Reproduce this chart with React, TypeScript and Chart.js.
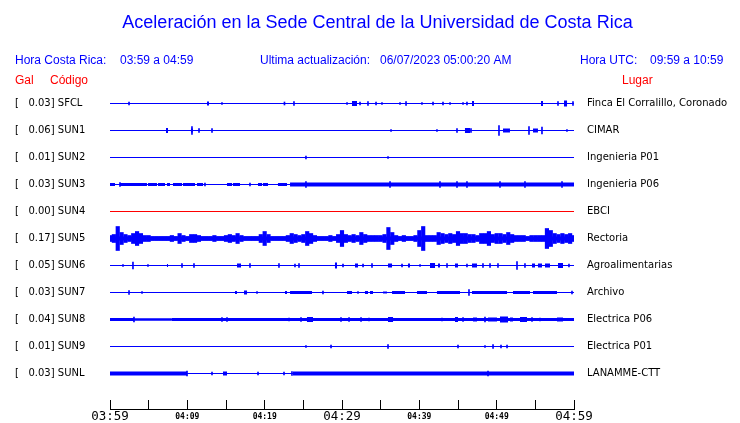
import React, { useEffect, useRef } from 'react';
import { Chart, registerables } from 'chart.js';

Chart.register(...registerables);

// ---------- text ----------
const TITLE = 'Aceleración en la Sede Central de la Universidad de Costa Rica';
const CR_LABEL = 'Hora Costa Rica:';
const CR_RANGE = '03:59 a 04:59';
const UPD_LABEL = 'Ultima actualización:';
const UPD_VALUE = '06/07/2023 05:00:20 AM';
const UTC_LABEL = 'Hora UTC:';
const UTC_RANGE = '09:59 a 10:59';

// time axis: minutes after 03:59, labels every 10 minutes
const TIME_TICKS = ['03:59', '04:09', '04:19', '04:29', '04:39', '04:49', '04:59'];

// ---------- stations ----------
const CODES = ['SFCL', 'SUN1', 'SUN2', 'SUN3', 'SUN4', 'SUN5', 'SUN6', 'SUN7', 'SUN8', 'SUN9', 'SUNL'];
const PEAKS = ['0.03', '0.06', '0.01', '0.03', '0.00', '0.17', '0.05', '0.03', '0.04', '0.01', '0.03'];
const PLACES = [
  'Finca El Corralillo, Coronado', 'CIMAR', 'Ingenieria P01', 'Ingenieria P06', 'EBCI', 'Rectoria',
  'Agroalimentarias', 'Archivo', 'Electrica P06', 'Electrica P01', 'LANAMME-CTT',
];

// spikes: [minute, half amplitude] ; bursts: [start minute, end minute, half amplitude]
const SFCL_SPIKES = [[2.46, 1.5], [14.48, 1], [22.56, 1.5], [23.79, 2], [30.65, 1], [32.33, 1.5], [33.36, 2], [34.4, 1.5], [35.17, 1], [37.5, 1], [38.28, 2], [40.34, 1], [41.77, 1.5], [43.06, 1.5], [43.97, 1], [45.65, 1], [46.16, 1.5], [57.93, 2], [59.87, 2]];
const SFCL_BURSTS = [[12.54, 12.8, 2], [31.29, 31.94, 2.5], [46.81, 47.07, 2.5], [55.73, 55.99, 2.5], [58.71, 59.1, 3]];

const SUN1_SPIKES = [[10.6, 4], [11.51, 2], [13.19, 2], [36.34, 1], [42.28, 1], [44.87, 2], [46.68, 2], [50.3, 5], [54.18, 4], [55.86, 3.5], [59.09, 1]];
const SUN1_BURSTS = [[7.24, 7.5, 2.5], [10.47, 10.73, 2], [45.9, 46.55, 2.5], [50.82, 51.72, 2], [54.7, 55.34, 2]];

const SUN2_SPIKES = [[25.34, 1.5], [35.95, 1]];
const SUN2_BURSTS = [];

const SUN3_SPIKES = [[1.29, 2], [12.28, 1.5], [18.1, 1.5], [25.34, 3], [36.21, 3], [42.67, 3], [44.87, 3], [46.16, 3], [50.43, 3], [53.66, 3], [58.45, 3]];
const SUN3_BURSTS = [[0, 0.65, 1.5], [1.29, 4.78, 1.5], [4.91, 6.08, 1.5], [6.21, 7.11, 1.5], [7.37, 7.76, 1.5], [8.15, 9.31, 1.5], [9.44, 10.99, 1.5], [11.25, 12.03, 1.5], [15.13, 15.78, 1.5], [15.9, 16.81, 1.5], [19.14, 19.66, 1.5], [19.78, 20.43, 1.5], [21.72, 22.89, 1.5], [23.28, 60, 2]];

const SUN4_SPIKES = [];
const SUN4_BURSTS = [];

// SUN5 is continuous: envelope sampled every half minute (0 .. 60)
const SUN5_STEP = 0.5;
const SUN5_ENVELOPE = [
  3, 4, 12, 6, 4, 3, 5, 7, 5, 3,
  3, 2, 2, 2, 2, 2, 3, 2, 5, 3,
  2, 4, 4, 3, 2, 2, 2, 3, 2, 2,
  3, 4, 3, 5, 3, 2, 2, 2, 2, 4,
  7, 4, 2, 2, 2, 2, 3, 5, 4, 3,
  4, 7, 5, 3, 2, 2, 2, 3, 2, 4,
  8, 4, 3, 4, 3, 6, 4, 3, 3, 3,
  3, 4, 11, 6, 3, 2, 3, 2, 2, 3,
  8, 12, 3, 3, 3, 6, 5, 4, 5, 4,
  7, 5, 5, 4, 4, 3, 5, 5, 7, 4,
  5, 5, 4, 6, 4, 3, 3, 3, 2, 3,
  3, 3, 3, 10, 8, 5, 4, 5, 4, 5,
  3,
];
const SUN5_SPIKES = [];
const SUN5_BURSTS = [[0, 60, 2]];

const SUN6_SPIKES = [[1.68, 1], [2.97, 3.5], [4.91, 1], [9.31, 2], [10.86, 2], [18.1, 2], [21.85, 2], [23.92, 1.5], [24.44, 2], [30.13, 1.5], [32.72, 1.5], [33.88, 2], [37.76, 1.5], [40.09, 1], [43.58, 2], [46.16, 1.5], [48.23, 2], [49.14, 2], [50.17, 2], [52.63, 4], [53.66, 2], [59.35, 1.5]];
const SUN6_BURSTS = [[7.37, 7.5, 1.5], [16.42, 16.94, 2], [29.09, 29.35, 3], [31.68, 32.07, 2], [35.95, 36.47, 2], [38.53, 38.79, 2], [41.38, 42.03, 2.5], [42.41, 42.67, 2], [44.61, 45.0, 2], [46.81, 47.46, 2], [54.57, 54.96, 2], [55.34, 55.86, 2], [56.25, 56.9, 2], [57.93, 58.58, 2.5]];

const SUN7_SPIKES = [[2.46, 2], [4.14, 1], [19.01, 1], [27.54, 1.5], [32.07, 1], [46.42, 3], [59.74, 1.5]];
const SUN7_BURSTS = [[16.16, 16.42, 1.5], [17.33, 17.72, 2], [22.63, 22.89, 1.5], [23.28, 26.12, 1.5], [30.65, 31.29, 1.5], [32.97, 33.36, 1.5], [33.62, 34.01, 1.5], [35.3, 35.82, 1], [36.47, 38.15, 1.5], [39.7, 40.99, 1.5], [42.28, 45.26, 1.5], [46.81, 51.34, 1.5], [52.11, 54.31, 1.5], [54.7, 57.8, 1.5]];

const SUN8_SPIKES = [[3.1, 2.5], [14.48, 2], [15.13, 2], [23.15, 1.5], [24.7, 2], [29.87, 2], [30.91, 2], [32.46, 2], [33.49, 1.5], [42.93, 1.5], [45.65, 2], [48.49, 2.5], [54.57, 2], [55.6, 1.5]];
const SUN8_BURSTS = [[0, 3.2, 1.5], [3.2, 8.0, 1.25], [8.0, 60, 1.5], [25.47, 26.25, 2.5], [35.95, 36.6, 2.5], [44.61, 45.0, 2.5], [46.94, 47.46, 2], [48.88, 50.04, 2], [50.43, 51.47, 3], [51.72, 52.11, 2], [53.02, 53.92, 2.5], [57.8, 58.58, 2]];

const SUN9_SPIKES = [[25.34, 1], [28.58, 1.5], [35.95, 2], [45.0, 1.5], [48.49, 1], [49.53, 2], [50.56, 1.5], [51.34, 1.5]];
const SUN9_BURSTS = [];

const SUNL_SPIKES = [[9.96, 2.5], [13.19, 1.5], [19.14, 1.5], [22.5, 1.5], [23.53, 2], [48.88, 2.5]];
const SUNL_BURSTS = [[0, 9.96, 2], [14.61, 15.13, 2], [23.66, 60, 2]];

const SPIKES = [SFCL_SPIKES, SUN1_SPIKES, SUN2_SPIKES, SUN3_SPIKES, SUN4_SPIKES, SUN5_SPIKES, SUN6_SPIKES, SUN7_SPIKES, SUN8_SPIKES, SUN9_SPIKES, SUNL_SPIKES];
const BURSTS = [SFCL_BURSTS, SUN1_BURSTS, SUN2_BURSTS, SUN3_BURSTS, SUN4_BURSTS, SUN5_BURSTS, SUN6_BURSTS, SUN7_BURSTS, SUN8_BURSTS, SUN9_BURSTS, SUNL_BURSTS];

// ---------- styling / layout constants ----------
const BLUE = '#0000ff';
const RED = '#ff0000';
const FLAT_COLOR = RED; // station with no signal
const ROW = 27; // value units between two traces
const TIME_MAX = 60;
const Y_MAX = 13.5;
const Y_MIN = 13.5 - 310;
const SANS = '"Liberation Sans", Arial, sans-serif';
const DEJAVU = '"DejaVu Sans", sans-serif';
const MONO = '"DejaVu Sans Mono", monospace';

const unitPx = (chart: any) => {
  const s = chart.scales && chart.scales.y;
  if (!s) return 1;
  return Math.abs(s.getPixelForValue(0) - s.getPixelForValue(1));
};

function buildDatasets() {
  const ds: any[] = [];
  CODES.forEach((code, i) => {
    const c = -i * ROW;
    const color = PEAKS[i] === '0.00' ? FLAT_COLOR : BLUE;
    ds.push({
      type: 'line',
      data: [{ x: 0, y: c }, { x: TIME_MAX, y: c }],
      borderColor: color,
      borderWidth: 1,
      pointRadius: 0,
      xAxisID: 'x',
      yAxisID: 'y',
    });
    BURSTS[i].forEach(([a, b, h]) => {
      ds.push({
        type: 'line',
        data: [{ x: a, y: c }, { x: b, y: c }],
        borderColor: color,
        borderWidth: (ctx: any) => 2 * h * unitPx(ctx.chart),
        borderCapStyle: 'butt',
        pointRadius: 0,
        xAxisID: 'x',
        yAxisID: 'y',
      });
    });
    if (SPIKES[i].length) {
      ds.push({
        type: 'bar',
        data: SPIKES[i].map(([m, a]) => ({ x: m, y: [c - a, c + a] })),
        backgroundColor: color,
        borderWidth: 0,
        barThickness: 1,
        grouped: false,
        xAxisID: 'x',
        yAxisID: 'y',
      });
    }
    if (code === 'SUN5') {
      ds.push({
        type: 'bar',
        data: SUN5_ENVELOPE.map((a, k) => ({ x: k * SUN5_STEP, y: [c - a, c + a] })),
        backgroundColor: color,
        borderWidth: 0,
        barThickness: 3.5,
        grouped: false,
        xAxisID: 'x',
        yAxisID: 'y',
      });
    }
  });
  return ds;
}

const headerPlugin = {
  id: 'header',
  afterDraw(chart: any) {
    const { ctx } = chart;
    ctx.save();
    ctx.textBaseline = 'middle';
    ctx.textAlign = 'left';
    ctx.font = `12px ${SANS}`;
    ctx.fillStyle = BLUE;
    ctx.fillText(CR_LABEL, 15, 61);
    ctx.fillText(CR_RANGE, 120, 61);
    ctx.fillText(UPD_LABEL, 260, 61);
    ctx.fillText(UPD_VALUE, 380, 61);
    ctx.fillText(UTC_LABEL, 580, 61);
    ctx.fillText(UTC_RANGE, 650, 61);
    ctx.fillStyle = RED;
    ctx.fillText('Gal', 15, 81);
    ctx.fillText('Código', 50, 81);
    ctx.fillText('Lugar', 622, 81);
    // time axis base line under the tick marks
    const xs = chart.scales.x;
    const y = Math.round(xs.top + 9) + 0.5;
    ctx.strokeStyle = '#000';
    ctx.lineWidth = 1;
    ctx.beginPath();
    ctx.moveTo(xs.getPixelForValue(0), y);
    ctx.lineTo(xs.getPixelForValue(TIME_MAX) + 1, y);
    ctx.stroke();
    ctx.restore();
  },
};

export default function App() {
  const ref = useRef<HTMLCanvasElement>(null);
  useEffect(() => {
    if (!ref.current) return;
    const chart = new Chart(ref.current, {
      type: 'bar',
      data: { datasets: buildDatasets() },
      plugins: [headerPlugin],
      options: {
        responsive: false,
        animation: false,
        devicePixelRatio: 1,
        layout: { padding: { left: 15, right: 0, top: 0, bottom: 0 } },
        plugins: {
          legend: { display: false },
          tooltip: { enabled: false },
          title: {
            display: true,
            text: TITLE,
            color: BLUE,
            font: { family: SANS, size: 18, weight: 'normal', lineHeight: 1.2 },
            padding: { top: 12.2, bottom: 56.2 },
          },
        },
        scales: {
          x: {
            type: 'linear',
            min: 0,
            max: TIME_MAX,
            offset: false,
            position: 'bottom',
            afterBuildTicks: (axis: any) => {
              const t = [];
              for (let m = 0; m <= TIME_MAX; m += 5) t.push({ value: m });
              axis.ticks = t;
            },
            afterFit: (axis: any) => { axis.height = 23; },
            grid: { offset: false, drawOnChartArea: false, drawTicks: true, tickLength: 9, color: '#000', lineWidth: 1 },
            border: { display: false },
            ticks: {
              autoSkip: false,
              maxRotation: 0,
              padding: 0,
              color: '#000',
              font: (ctx: any) => {
                const v = ctx.tick ? ctx.tick.value : 0;
                return v % 30 === 0
                  ? { family: MONO, size: 12.5, lineHeight: 1.2, weight: 'normal' }
                  : { family: MONO, size: 8, lineHeight: 1.875, weight: 'bold' };
              },
              callback: (v: any) => (v % 10 === 0 ? TIME_TICKS[v / 10] : ''),
            },
          },
          y: {
            type: 'linear',
            position: 'left',
            min: Y_MIN,
            max: Y_MAX,
            afterBuildTicks: (axis: any) => { axis.ticks = CODES.map((_, i) => ({ value: -i * ROW })); },
            afterFit: (axis: any) => { axis.width = 95; },
            grid: { display: false, drawTicks: false },
            border: { display: false },
            ticks: {
              autoSkip: false,
              crossAlign: 'far',
              padding: 0,
              color: '#000',
              font: { family: DEJAVU, size: 10 },
              callback: (_v: any, idx: number) => `[   ${PEAKS[idx]}] ${CODES[idx]}`,
            },
          },
          y2: {
            type: 'linear',
            position: 'right',
            min: Y_MIN,
            max: Y_MAX,
            afterBuildTicks: (axis: any) => { axis.ticks = PLACES.map((_, i) => ({ value: -i * ROW })); },
            afterFit: (axis: any) => { axis.width = 166; },
            grid: { display: false, drawTicks: false },
            border: { display: false },
            ticks: {
              autoSkip: false,
              padding: 13,
              color: '#000',
              font: { family: DEJAVU, size: 10 },
              callback: (_v: any, idx: number) => PLACES[idx],
            },
          },
        },
      } as any,
    });
    return () => chart.destroy();
  }, []);
  return (
    <div style={{ position: 'absolute', left: 0, top: 0, width: 740, height: 423, background: '#fff' }}>
      <canvas ref={ref} width={740} height={423} style={{ display: 'block' }} />
    </div>
  );
}
